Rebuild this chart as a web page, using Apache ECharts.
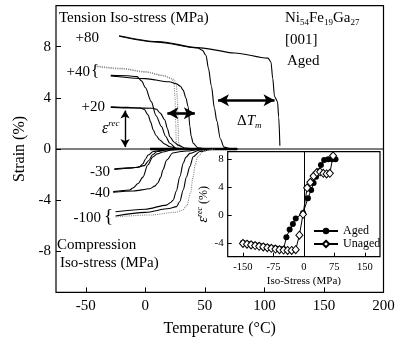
<!DOCTYPE html>
<html>
<head>
<meta charset="utf-8">
<script src="https://cdn.jsdelivr.net/npm/echarts@6/dist/echarts.min.js"></script>
<style>
html, body {margin: 0; padding: 0; background: #fff;}
#chart {width: 400px; height: 337px;}
</style>
</head>
<body>
<div id="chart"></div>
<script>
// main panel: strain (%) vs temperature (°C), [T, strain] pairs
const p80Heat = [[-22, 8.85], [10, 8.4], [46, 7.9], [75, 7.5], [103, 7.1], [105.5, 6.8], [107, 5.5], [108.5, 4.1], [111, 3.7], [112, 2.5], [113, 0.25]];
const p80Cool = [[-22, 8.8], [10, 8.35], [44, 7.9], [48, 7.7], [51, 7.3], [53, 6.3], [55.5, 4.9], [58, 3.2], [60, 2.2], [63, 0.8], [66, 0.15], [72, 0.02], [78, 0]];
const p40Gray1 = [[-42, 6.5], [-20, 6.3], [0, 6.05], [15, 5.75], [22, 5.5], [24, 5.2], [25, 4.0], [25.5, 2.0], [26, 0.5], [28, 0.1], [32, 0]];
const p40Gray2 = [[-42, 6.45], [-20, 6.25], [0, 6.0], [16, 5.7], [24, 5.45], [26, 5.1], [27, 3.8], [27.5, 1.8], [28, 0.4], [30, 0.05], [34, 0]];
const p40Cool = [[-29, 5.75], [-15, 5.72], [-7, 5.65], [-3, 5.3], [0, 4.8], [5, 3.7], [9, 2.6], [13.6, 1.75], [17, 1.0], [20.6, 0.45], [26, 0.05], [32, 0]];
const p40Heat = [[-29, 5.7], [0, 5.5], [20, 5.25], [26, 5.1], [29.5, 4.9], [31.8, 4.6], [34, 4.0], [36, 3.3], [37.4, 1.75], [38.5, 1.0], [40.2, 0.45], [44, 0.1], [50, 0]];
const p20Cool = [[-29, 3.3], [-15, 3.25], [-4, 3.2], [-1, 3.1], [2.4, 2.65], [4.5, 2.1], [6.6, 1.5], [9, 1.05], [12.2, 0.7], [16, 0.4], [20.6, 0.18], [28, 0.03], [35, 0]];
const p20Heat = [[-29, 3.25], [-10, 3.2], [6, 3.18], [9.4, 3.1], [12.5, 2.8], [16.4, 2.27], [18.5, 1.6], [20.6, 0.96], [24, 0.55], [27.6, 0.3], [33, 0.08], [40, 0]];
const m30A = [[-26, -1.6], [-12, -1.5], [-5, -1.4], [-2, -1.15], [0, -0.8], [2.4, -0.47], [6.6, -0.2], [12, -0.12], [18, -0.06], [30, 0]];
const m30B = [[-26, -1.55], [-8, -1.45], [-1, -1.3], [3, -0.9], [6, -0.45], [10, -0.2], [18, -0.06], [30, 0]];
const m40A = [[-27, -3.33], [-13, -3.2], [-10.5, -3.05], [-6, -2.7], [-2, -2.2], [2, -1.25], [6.3, -0.63], [10, -0.38], [14.7, -0.23], [22, -0.08], [30, 0]];
const m40B = [[-27, -3.38], [-10, -3.28], [3.8, -3.1], [8, -2.9], [10.5, -2.65], [13, -2.2], [14.7, -1.64], [18, -0.86], [23, -0.31], [30, -0.2], [35, -0.16], [45, 0]];
const m100A = [[-25, -4.9], [0, -4.7], [17.8, -4.38], [21, -4.2], [23.4, -4.0], [26, -3.3], [29, -2.16], [31.8, -1.12], [34, -0.65], [37.4, -0.34], [45.8, -0.08], [55, 0]];
const m100B = [[-25, -5.23], [0, -4.95], [20, -4.65], [26.2, -4.5], [29, -4.1], [31.8, -3.2], [34.5, -2.2], [37.4, -1.38], [40.2, -0.6], [45.8, -0.2], [55, 0]];
const m100Gray = [[-25, -5.3], [5, -5.15], [25, -4.95], [31, -4.8], [35, -4.4], [38, -3.4], [40, -2.2], [42, -1.2], [44, -0.6], [49, -0.15], [58, 0]];
const mergeSpan = [[4, 0], [77, 0]];

const erecArrow = [[-17, 3.0], [-17, 0.15]];
const hyst40Arrow = [[18.5, 2.8], [41.6, 2.8]];
const dTmArrow = [[61, 3.8], [108.5, 3.8]];

const tempTicks = [-50, 0, 50, 100, 150, 200];
const strainTicks = [-8, -4, 0, 4, 8];

// inset: recoverable strain vs iso-stress
const agedStress = [-150, -140, -130, -120, -110, -100, -90, -80, -70, -60, -50, -43, -35, -27, -20, -2, 10, 18, 24, 30, 36, 42, 50, 60, 70, 78];
const agedRec = [-4.0, -4.1, -4.2, -4.3, -4.4, -4.5, -4.6, -4.7, -4.8, -4.85, -4.9, -3.2, -2.1, -1.3, -0.5, 0.3, 2.4, 3.6, 4.6, 5.5, 6.3, 7.2, 7.9, 8.0, 8.0, 8.0];
const unagedStress = [-150, -140, -130, -120, -110, -100, -90, -80, -70, -60, -50, -40, -30, -20, -11, -2, 8, 16, 24, 32, 40, 48, 56, 64, 72];
const unagedRec = [-4.1, -4.2, -4.3, -4.4, -4.5, -4.6, -4.7, -4.8, -4.9, -5.0, -5.05, -5.1, -5.1, -5.0, -2.9, 0.1, 3.9, 4.7, 5.6, 6.1, 6.2, 6.0, 5.9, 6.0, 8.5];
const stressTicks = [-150, -75, 0, 75, 150];
const recTicks = [-4, 0, 4, 8];

const serif = 'Liberation Serif';
const zip = (xs, ys) => xs.map((x, i) => [x, ys[i]]);

const curve = (data, color, type) => ({
  type: 'line', data, xAxisIndex: 0, yAxisIndex: 0,
  symbol: 'none', smooth: 0.3, smoothMonotone: 'x', silent: true, z: 2,
  lineStyle: {color: color || '#000', width: 1.1, type: type || 'solid'}
});

const arrows = (pairs, width, size) => ({
  type: 'line', data: [], xAxisIndex: 0, yAxisIndex: 0, z: 4,
  markLine: {
    silent: true, symbol: ['arrow', 'arrow'], symbolSize: size,
    label: {show: false},
    lineStyle: {color: '#000', width, type: 'solid'},
    emphasis: {disabled: true},
    data: pairs.map(p => [{coord: p[0]}, {coord: p[1]}])
  }
});

const txt = (text, x, y, size, extra) => ({
  type: 'text', x, y, silent: true, z: 20,
  style: Object.assign({
    text, fill: '#000', fontFamily: serif, fontSize: size,
    align: 'left', verticalAlign: 'middle'
  }, extra || {})
});

var myChart = echarts.init(document.getElementById('chart'));
myChart.setOption({
  animation: false,
  grid: [
    {left: 56, right: 16.5, top: 5.6, bottom: 44.6, show: true, borderColor: '#000', borderWidth: 1.2,
      outerBoundsMode: 'none'},
    {left: 227.7, right: 20, top: 151.7, bottom: 80.3, show: true, backgroundColor: '#fff',
      borderColor: '#000', borderWidth: 1.2, z: 5, outerBoundsMode: 'none'}
  ],
  xAxis: [
    {
      type: 'value', gridIndex: 0, min: -75, max: 200,
      axisLine: {show: false, onZero: false}, splitLine: {show: false},
      axisTick: {inside: true, length: 5, customValues: [-50, 0, 50, 100, 150], lineStyle: {color: '#000'}},
      axisLabel: {customValues: tempTicks, color: '#000', fontFamily: serif, fontSize: 15, margin: 6},
      name: 'Temperature (°C)', nameLocation: 'middle', nameGap: 28,
      nameTextStyle: {color: '#000', fontFamily: serif, fontSize: 16}
    },
    {
      type: 'value', gridIndex: 1, min: -187.5, max: 187.5, z: 6,
      axisLine: {show: false, onZero: false}, splitLine: {show: false},
      axisTick: {inside: true, length: 4, customValues: stressTicks, lineStyle: {color: '#000'}},
      axisLabel: {customValues: stressTicks, color: '#000', fontFamily: serif, fontSize: 10.5, margin: 5},
      name: 'Iso-Stress (MPa)', nameLocation: 'middle', nameGap: 19,
      nameTextStyle: {color: '#000', fontFamily: serif, fontSize: 11}
    }
  ],
  yAxis: [
    {
      type: 'value', gridIndex: 0, min: -11.2, max: 11.2,
      axisLine: {show: false, onZero: false}, splitLine: {show: false},
      axisTick: {inside: true, length: 5, customValues: strainTicks, lineStyle: {color: '#000'}},
      axisLabel: {customValues: strainTicks, color: '#000', fontFamily: serif, fontSize: 15, margin: 5},
      name: 'Strain (%)', nameLocation: 'middle', nameGap: 23,
      nameTextStyle: {color: '#000', fontFamily: serif, fontSize: 16}
    },
    {
      type: 'value', gridIndex: 1, min: -6, max: 9.1, z: 6,
      axisLine: {show: false, onZero: false}, splitLine: {show: false},
      axisTick: {inside: true, length: 4, customValues: recTicks, lineStyle: {color: '#000'}},
      axisLabel: {customValues: recTicks, color: '#000', fontFamily: serif, fontSize: 11, margin: 4},
      name: '{e|ε}{r|rec}{n| (%)}', nameLocation: 'middle', nameGap: 14,
      nameTextStyle: {
        color: '#000', fontFamily: serif, fontSize: 12,
        rich: {
          e: {fontFamily: serif, fontSize: 14, fontStyle: 'italic', lineHeight: 16},
          r: {fontFamily: serif, fontSize: 8, fontStyle: 'italic', verticalAlign: 'top', lineHeight: 16},
          n: {fontFamily: serif, fontSize: 12, lineHeight: 16}
        }
      }
    }
  ],
  legend: {
    data: ['Aged', 'Unaged'], orient: 'vertical', left: 308, top: 220,
    itemWidth: 24, itemHeight: 8, itemGap: 1, z: 10,
    textStyle: {color: '#000', fontFamily: serif, fontSize: 12}
  },
  graphic: [
    txt('Tension Iso-stress (MPa)', 59, 18, 15),
    txt('+80', 99, 38, 15, {align: 'right'}),
    txt('+40', 90, 72, 15, {align: 'right'}),
    txt('{', 91, 72, 17),
    txt('+20', 105, 107, 15, {align: 'right'}),
    txt('-30', 110, 172, 15, {align: 'right'}),
    txt('-40', 110, 193, 15, {align: 'right'}),
    txt('-100', 101, 218, 15, {align: 'right'}),
    txt('{', 104, 217, 19),
    txt('Compression', 57, 245, 15),
    txt('Iso-stress (MPa)', 60, 263, 15),
    txt('{n|Ni}{s|54}{n|Fe}{s|19}{n|Ga}{s|27}', 285, 18, 15, {
      rich: {
        n: {fontFamily: serif, fontSize: 15, lineHeight: 18},
        s: {fontFamily: serif, fontSize: 9, lineHeight: 18, verticalAlign: 'bottom', padding: [4, 0, 0, 0]}
      }
    }),
    txt('[001]', 285, 40, 15),
    txt('Aged', 287, 61, 15),
    txt('{e|ε}{r|rec}', 102, 129, 15, {
      rich: {
        e: {fontFamily: serif, fontSize: 16, fontStyle: 'italic', lineHeight: 20},
        r: {fontFamily: serif, fontSize: 9, fontStyle: 'italic', verticalAlign: 'top', lineHeight: 20}
      }
    }),
    txt('{n|Δ}{t|T}{m|m}', 237, 121, 15, {
      rich: {
        n: {fontFamily: serif, fontSize: 15, lineHeight: 18},
        t: {fontFamily: serif, fontSize: 15, fontStyle: 'italic', lineHeight: 18},
        m: {fontFamily: serif, fontSize: 9, fontStyle: 'italic', lineHeight: 18, verticalAlign: 'bottom', padding: [4, 0, 0, 0]}
      }
    })
  ],
  series: [
    Object.assign(curve([[-75, 0], [200, 0]]), {smooth: false, lineStyle: {color: '#000', width: 1}}),
    Object.assign(curve(mergeSpan), {smooth: false, lineStyle: {color: '#000', width: 2.4}}),
    curve(p80Heat), curve(p80Cool),
    curve(p40Gray1, '#8c8c8c', 'dotted'), curve(p40Gray2, '#8c8c8c', 'dotted'),
    curve(p40Cool), curve(p40Heat),
    curve(p20Cool), curve(p20Heat),
    curve(m30A), curve(m30B),
    curve(m40A), curve(m40B),
    curve(m100A), curve(m100B),
    curve(m100Gray, '#8c8c8c', 'dotted'),
    arrows([hyst40Arrow, dTmArrow], 2.6, [9, 11]),
    arrows([erecArrow], 1.4, [7, 8]),
    {
      name: 'Aged', type: 'line', xAxisIndex: 1, yAxisIndex: 1, z: 7,
      data: zip(agedStress, agedRec),
      symbol: 'circle', symbolSize: 6, showSymbol: true,
      itemStyle: {color: '#000'},
      lineStyle: {color: '#000', width: 1},
      markLine: {
        silent: true, symbol: 'none', label: {show: false},
        lineStyle: {color: '#000', width: 1, type: 'solid'},
        data: [{xAxis: 0}]
      }
    },
    {
      name: 'Unaged', type: 'line', xAxisIndex: 1, yAxisIndex: 1, z: 8,
      data: zip(unagedStress, unagedRec),
      symbol: 'diamond', symbolSize: [7, 8], showSymbol: true,
      itemStyle: {color: '#fff', borderColor: '#000', borderWidth: 1},
      lineStyle: {color: '#000', width: 1}
    }
  ]
});
</script>
</body>
</html>
